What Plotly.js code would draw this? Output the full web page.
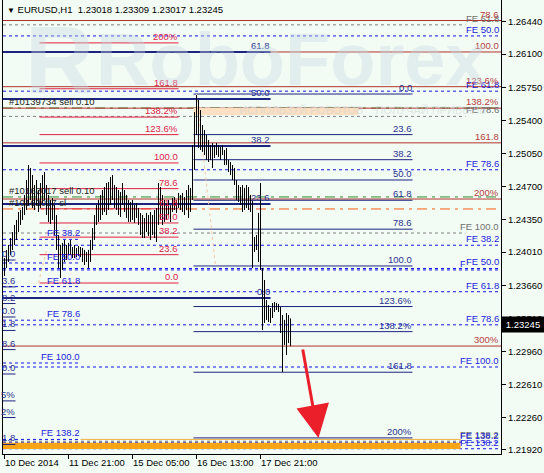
<!DOCTYPE html>
<html><head><meta charset="utf-8">
<script src="https://cdn.plot.ly/plotly-3.0.1.min.js"></script>
<style>html,body{margin:0;padding:0;background:#f2fcf5;}#chart{width:544px;height:473px;}</style>
</head><body><div id="chart"></div>
<script>
// ---------- DATA ----------
const barHigh = [
1.23947,1.24032,1.24085,1.24158,1.24222,1.24296,1.24349,1.24433,1.24454,1.24486,
1.24613,1.24771,1.24929,1.24898,1.24824,1.24718,1.24771,1.24665,1.24739,1.24824,
1.24856,1.24718,1.24613,1.24560,1.24581,1.24507,1.24401,1.24190,1.24085,1.24106,
1.24137,1.24085,1.24106,1.24137,1.24063,1.24085,1.24053,1.24074,1.24063,1.24053,
1.24032,1.24011,1.24032,1.24137,1.24264,1.24401,1.24507,1.24560,1.24613,1.24665,
1.24697,1.24739,1.24750,1.24803,1.24824,1.24718,1.24697,1.24665,1.24644,1.24739,
1.24665,1.24613,1.24560,1.24539,1.24560,1.24507,1.24528,1.24475,1.24423,1.24401,
1.24370,1.24423,1.24401,1.24433,1.24401,1.24454,1.24475,1.24739,1.24697,1.24613,
1.24560,1.24528,1.24560,1.24507,1.24581,1.24592,1.24560,1.24634,1.24613,1.24634,
1.24592,1.24665,1.24718,1.24687,1.25141,1.25489,1.25669,1.25616,1.25510,1.25352,
1.25299,1.25246,1.25194,1.25141,1.25162,1.25141,1.25162,1.25141,1.25120,1.25141,
1.25088,1.25109,1.24982,1.24961,1.24929,1.24898,1.24771,1.24718,1.24697,1.24718,
1.24687,1.24718,1.24697,1.24613,1.24560,1.24169,1.24190,1.24423,1.24739,1.23842,
1.23715,1.23504,1.23451,1.23419,1.23472,1.23483,1.23472,1.23461,1.23430,1.23345,
1.23293,1.23366,1.23345,1.23309];
const barLow = [
1.23757,1.23842,1.23905,1.23979,1.24032,1.24085,1.24137,1.24222,1.24296,1.24349,
1.24401,1.24454,1.24507,1.24560,1.24475,1.24454,1.24507,1.24433,1.24475,1.24528,
1.24560,1.24401,1.24328,1.24306,1.24349,1.24190,1.24032,1.23842,1.23736,1.23821,
1.23905,1.23926,1.23979,1.23979,1.23947,1.23947,1.23958,1.23968,1.23958,1.23905,
1.23873,1.23905,1.23842,1.23905,1.24032,1.24137,1.24296,1.24328,1.24349,1.24401,
1.24433,1.24401,1.24454,1.24507,1.24560,1.24475,1.24454,1.24401,1.24380,1.24507,
1.24433,1.24370,1.24328,1.24328,1.24349,1.24317,1.24370,1.24296,1.24190,1.24158,
1.24158,1.24222,1.24180,1.24137,1.24190,1.24158,1.24116,1.24296,1.24349,1.24296,
1.24328,1.24349,1.24401,1.24328,1.24433,1.24454,1.24423,1.24475,1.24454,1.24433,
1.24401,1.24454,1.24370,1.24433,1.24560,1.24877,1.25246,1.25109,1.25088,1.25067,
1.25035,1.24982,1.24961,1.24982,1.24898,1.25003,1.25035,1.25014,1.24982,1.25035,
1.24929,1.24929,1.24856,1.24824,1.24771,1.24718,1.24560,1.24539,1.24507,1.24433,
1.24454,1.24475,1.24454,1.24433,1.23842,1.24011,1.24032,1.23905,1.23821,1.23187,
1.23261,1.23293,1.23271,1.23261,1.23314,1.23377,1.23398,1.23377,1.23155,1.22743,
1.23029,1.22923,1.23050,1.23017];
const barOpen = [
1.23800,1.23900,1.24000,1.24050,1.24130,1.24200,1.24260,1.24320,1.24400,1.24430,
1.24460,1.24580,1.24720,1.24800,1.24650,1.24700,1.24600,1.24650,1.24550,1.24700,
1.24780,1.24700,1.24500,1.24400,1.24500,1.24400,1.24250,1.24100,1.23900,1.24000,
1.23950,1.24080,1.24000,1.24080,1.24000,1.24030,1.23980,1.24020,1.24000,1.23990,
1.23950,1.23920,1.23980,1.23910,1.24100,1.24230,1.24380,1.24450,1.24500,1.24580,
1.24620,1.24500,1.24700,1.24650,1.24780,1.24650,1.24550,1.24650,1.24450,1.24600,
1.24550,1.24480,1.24420,1.24500,1.24380,1.24500,1.24400,1.24450,1.24320,1.24220,
1.24300,1.24230,1.24350,1.24250,1.24300,1.24220,1.24400,1.24300,1.24650,1.24450,
1.24350,1.24500,1.24400,1.24500,1.24450,1.24550,1.24500,1.24530,1.24600,1.24500,
1.24580,1.24450,1.24620,1.24500,1.24600,1.25050,1.25400,1.25350,1.25200,1.25300,
1.25150,1.25240,1.25050,1.25140,1.25050,1.25100,1.25050,1.25120,1.25050,1.25100,
1.25060,1.24980,1.24980,1.24900,1.24850,1.24800,1.24750,1.24600,1.24650,1.24550,
1.24650,1.24500,1.24650,1.24500,1.24560,1.24030,1.24100,1.24050,1.24350,1.23840,
1.23300,1.23450,1.23350,1.23300,1.23400,1.23450,1.23420,1.23450,1.23400,1.23200,
1.23050,1.23200,1.23050,1.23018];
const barClose = [
1.23900,1.24000,1.24050,1.24130,1.24200,1.24260,1.24320,1.24400,1.24430,1.24460,
1.24580,1.24720,1.24800,1.24650,1.24700,1.24600,1.24700,1.24550,1.24700,1.24780,
1.24700,1.24500,1.24400,1.24500,1.24400,1.24250,1.24100,1.23900,1.24000,1.23900,
1.24100,1.24000,1.24080,1.24000,1.24030,1.23980,1.24020,1.24000,1.23990,1.23950,
1.23920,1.23980,1.23900,1.24100,1.24230,1.24380,1.24450,1.24500,1.24580,1.24620,
1.24500,1.24700,1.24650,1.24780,1.24650,1.24550,1.24650,1.24450,1.24600,1.24550,
1.24480,1.24420,1.24500,1.24380,1.24500,1.24400,1.24450,1.24320,1.24220,1.24300,
1.24200,1.24350,1.24250,1.24300,1.24220,1.24400,1.24200,1.24650,1.24450,1.24350,
1.24500,1.24400,1.24500,1.24450,1.24550,1.24500,1.24530,1.24600,1.24500,1.24580,
1.24450,1.24620,1.24500,1.24600,1.25050,1.25400,1.25350,1.25200,1.25300,1.25150,
1.25250,1.25050,1.25150,1.25050,1.25100,1.25050,1.25120,1.25050,1.25100,1.25060,
1.24980,1.25000,1.24900,1.24850,1.24800,1.24750,1.24600,1.24650,1.24550,1.24650,
1.24500,1.24650,1.24500,1.24560,1.24000,1.24100,1.24050,1.24350,1.23850,1.23300,
1.23450,1.23350,1.23300,1.23400,1.23450,1.23420,1.23450,1.23400,1.23200,1.23000,
1.23200,1.23050,1.23100,1.23245];

const xTickIdx = [0, 32, 64, 96, 128];
const xTickText = ["10 Dec 2014", "11 Dec 21:00", "15 Dec 05:00", "16 Dec 13:00", "17 Dec 21:00"];
const yTickVals = [1.26440,1.26100,1.25750,1.25400,1.25050,1.24700,1.24350,1.24010,1.23660,1.23310,1.22960,1.22610,1.22260,1.21920];
const lastQuote = {open:1.23018, high:1.23309, low:1.23017, close:1.23245};

// Fibonacci objects: levels, labels and two anchor prices (level 0, level 100)
const retrLevels = [0,23.6,38.2,50,61.8,78.6,100,123.6,138.2,161.8,200];
const retrLabels = ["0.0","23.6","38.2","50.0","61.8","78.6","100.0","123.6%","138.2%","161.8","200%"];
const fibR1Anchor = [1.23683, 1.24951];          // crimson, left
const fibN2Anchor = [1.25679, 1.23863];          // navy, 16-18 Dec
const fibR2Levels = [78.6,100,123.6,138.2,161.8,200,300];
const fibR2Labels = ["78.6","100.0","123.6%","138.2%","161.8","200%","300%"];
const fibR2Anchor = [1.27676, 1.26123];          // dark red, full width
const fibN1Levels = [0,23.6,38.2,50,61.8];
const fibN1Labels = ["0.0","23.6","38.2","50.0","61.8"];
const fibN1Anchor = [1.23525, 1.27727];
const fibN0Levels = [0,23.6,38.2,50,61.8,78.6,100,123.6,138.2,161.8];
const fibN0Labels = ["0.0","3.6","8.2","0.0","1.8","8.6","0.0","5%","2%","1.8"];
const fibN0Anchor = [1.23926, 1.22722];
const feGLevels = [61.8,78.6,100,138.2];
const feGLabels = ["FE 61.8","FE 78.6","FE 100.0","FE 138.2"];
const feGAnchor = [1.29967, 1.24211];
const feALevels = [50,61.8,78.6,100,138.2];
const feALabels = ["FE 50.0","FE 61.8","FE 78.6","FE 100.0","FE 138.2"];
const feAAnchor = [1.28764, 1.23821];
const feBLevels = [38.2,50,61.8,78.6,100,138.2];
const feBLabels = ["FE 38.2","FE 50.0","FE 61.8","FE 78.6","FE 100.0","FE 138.2"];
const feBAnchor = [1.24877, 1.22796];
const feCAnchor = [1.24951, 1.22838];

const orderPrices = [1.25531, 1.24592, 1.24465];
const orderLabels = ["#10139734 sell 0.10", "#10162017 sell 0.10", "#10162017 sl"];
const orderColors = ["#2e8b2e", "#2e8b2e", "#ff5a14"];

// ---------- BUILD ----------
const FONT = "Liberation Sans, Arial, sans-serif";
const BG = "#f2fcf5";
const shapes = [], ann = [];
const lev = (a, lv) => a[0] + (a[1] - a[0]) * lv / 100;

function drawFib(levels, labels, anchor, o) {
  levels.forEach((lv, k) => {
    const p = lev(anchor, lv);
    shapes.push({type:"line", xref:o.xref, x0:o.x0, x1:o.x1, yref:"y", y0:p, y1:p, layer:"below",
      line:{color:o.color, width:o.width || 1, dash:o.dash || "solid"}});
    if (labels && labels[k]) ann.push({xref:o.lxref || o.xref, x:o.lx, xanchor:"right", yref:"y", y:p,
      yanchor:"bottom", text:labels[k], showarrow:false, borderpad:0, yshift:o.yshift || 0,
      bgcolor:(o.bgIdx === k ? BG : "rgba(0,0,0,0)"),
      font:{family:FONT, size:9.5, color:o.lcolor}});
  });
}

// order lines
orderPrices.forEach((p, k) => {
  shapes.push({type:"line", xref:"paper", x0:0, x1:1, yref:"y", y0:p, y1:p, layer:"below",
    line:{color:orderColors[k], width:1, dash:"10px,5px,3px,5px"}});
  ann.push({xref:"paper", x:0.01, xanchor:"left", yref:"y", y:p, yanchor:"bottom", text:orderLabels[k],
    showarrow:false, borderpad:0, font:{family:FONT, size:9.5, color:"#222"}});
});

// watermark band
shapes.push({type:"rect", xref:"x", x0:94.5, x1:177, yref:"y", y0:1.25457, y1:1.25531, layer:"below",
  fillcolor:"#fddfc2", line:{width:0}});
// bottom target band
shapes.push({type:"rect", xref:"x", x0:-0.75, x1:228, yref:"y", y0:1.21930, y1:1.21996, layer:"below",
  fillcolor:"#f7a417", line:{width:0}});
shapes.push({type:"line", xref:"x", x0:38, x1:228, yref:"y", y0:1.22031, y1:1.22031, layer:"below",
  line:{color:"#f0b340", width:1}});

drawFib(feGLevels, feGLabels, feGAnchor, {xref:"x", x0:-0.75, x1:230.5, lxref:"paper", lx:0.997, color:"#808080", dash:"3px,3px", lcolor:"#707070"});
drawFib(feALevels, feALabels, feAAnchor, {xref:"paper", x0:0, x1:1, lx:0.997, color:"#1414e6", dash:"3px,3px", lcolor:"#1c1cdc"});
drawFib(feBLevels, feBLabels, feBAnchor, {xref:"paper", x0:0, x1:1, lx:0.997, color:"#1414e6", dash:"3px,3px", lcolor:"#1c1cdc", bgIdx:1});
drawFib(feBLevels, feBLabels, feCAnchor, {xref:"x", x0:-0.75, x1:38, lx:38, color:"#1414e6", dash:"3px,3px", lcolor:"#1c1cdc"});
drawFib(fibR2Levels, fibR2Labels, fibR2Anchor, {xref:"paper", x0:0, x1:1, lx:0.997, color:"#b3322c", lcolor:"#b84040"});
drawFib(retrLevels, retrLabels, fibR1Anchor, {xref:"x", x0:17.5, x1:87, lx:87, color:"#e0203f", lcolor:"#e0204a"});
drawFib(fibN1Levels, fibN1Labels, fibN1Anchor, {xref:"x", x0:-0.75, x1:133, lx:133, color:"#1c2480", width:2, lcolor:"#2a3290"});
drawFib(fibN0Levels, fibN0Labels, fibN0Anchor, {xref:"x", x0:-0.75, x1:5.5, lx:5.5, color:"#1c2480", lcolor:"#2a3290"});
drawFib(retrLevels, retrLabels, fibN2Anchor, {xref:"x", x0:94.5, x1:204, lx:204, color:"#1c2480", lcolor:"#2a3290"});

// dotted fib trend lines
shapes.push({type:"line", xref:"x", x0:96, x1:105.5, yref:"y", y0:fibN2Anchor[0], y1:fibN2Anchor[1], layer:"below",
  line:{color:"#f5c9a0", width:1, dash:"dot"}});
shapes.push({type:"line", xref:"x", x0:17, x1:21, yref:"y", y0:fibR1Anchor[0], y1:1.24032, layer:"below",
  line:{color:"#f5c9a0", width:1, dash:"dot"}});

// watermark text
ann.push({xref:"paper", x:0.58, xanchor:"center", yref:"paper", y:0.868, yanchor:"middle", text:"<b>RoboForex</b>",
  showarrow:false, font:{family:FONT, size:74, color:"rgba(200,216,224,0.38)"}});
ann.push({xref:"paper", x:0.04, xanchor:"left", yref:"paper", y:0.868, yanchor:"middle", text:"<b>R</b>",
  showarrow:false, font:{family:FONT, size:96, color:"rgba(200,216,224,0.38)"}});
ann.push({xref:"paper", x:0.47, xanchor:"left", yref:"paper", y:0.757, yanchor:"middle", text:"ИСПОЛЬЗУЙ РОБОТОВ    ПОЛУЧАЙ ПРИБЫЛЬ",
  showarrow:false, font:{family:FONT, size:11, color:"rgba(200,212,212,0.55)"}});

// title
ann.push({xref:"paper", x:0.006, xanchor:"left", yref:"paper", y:1, yanchor:"top", yshift:-3,
  text:'<span style="font-size:8px">▼</span> EURUSD,H1  ' + [lastQuote.open, lastQuote.high, lastQuote.low, lastQuote.close].map(v => v.toFixed(5)).join(" "),
  showarrow:false, borderpad:0, font:{family:FONT, size:9.5, color:"#000"}});

// x tick labels
xTickIdx.forEach((t, k) => ann.push({xref:"x", x:t - 0.5, xanchor:"left", yref:"paper", y:0, yanchor:"top", yshift:-2,
  text:xTickText[k], showarrow:false, borderpad:0, font:{family:FONT, size:9.5, color:"#000"}}));

// current price box
ann.push({xref:"paper", x:1, xanchor:"left", yref:"y", y:lastQuote.close, yanchor:"middle", text:lastQuote.close.toFixed(5),
  showarrow:false, bgcolor:"#000", borderpad:2, width:38, font:{family:FONT, size:9.5, color:"#fff"}});

// arrow
ann.push({xref:"x", x:157, yref:"y", y:1.22046, axref:"x", ax:149, ayref:"y", ay:1.22997, text:"",
  showarrow:true, arrowhead:2, arrowsize:2.2, arrowwidth:3, arrowcolor:"#ea1f2a", standoff:0});

const barIndex = barHigh.map((_, i) => i);
const trace = {type:"ohlc", x:barIndex, open:barOpen, high:barHigh, low:barLow, close:barClose,
  increasing:{line:{color:"#000", width:1}}, decreasing:{line:{color:"#000", width:1}},
  tickwidth:0.05, hoverinfo:"skip", showlegend:false};

const layout = {
  width:544, height:473, margin:{l:3, r:43, t:0, b:19, pad:0},
  paper_bgcolor:BG, plot_bgcolor:BG, showlegend:false,
  xaxis:{range:[-0.75, 248.25], rangeslider:{visible:false}, tickvals:xTickIdx, showticklabels:false,
    ticks:"outside", ticklen:4, tickcolor:"#000", showline:true, linecolor:"#000", linewidth:1,
    showgrid:false, zeroline:false, fixedrange:true},
  yaxis:{side:"right", range:[1.21877, 1.26672], tickvals:yTickVals, ticktext:yTickVals.map(v => v.toFixed(5)),
    ticks:"outside", ticklen:4, tickcolor:"#000", showline:true, mirror:true, linecolor:"#000", linewidth:1,
    showgrid:false, zeroline:false, fixedrange:true, tickfont:{family:FONT, size:9.5, color:"#000"}},
  shapes:shapes, annotations:ann
};
Plotly.newPlot("chart", [trace], layout, {staticPlot:true, displayModeBar:false});
</script></body></html>
